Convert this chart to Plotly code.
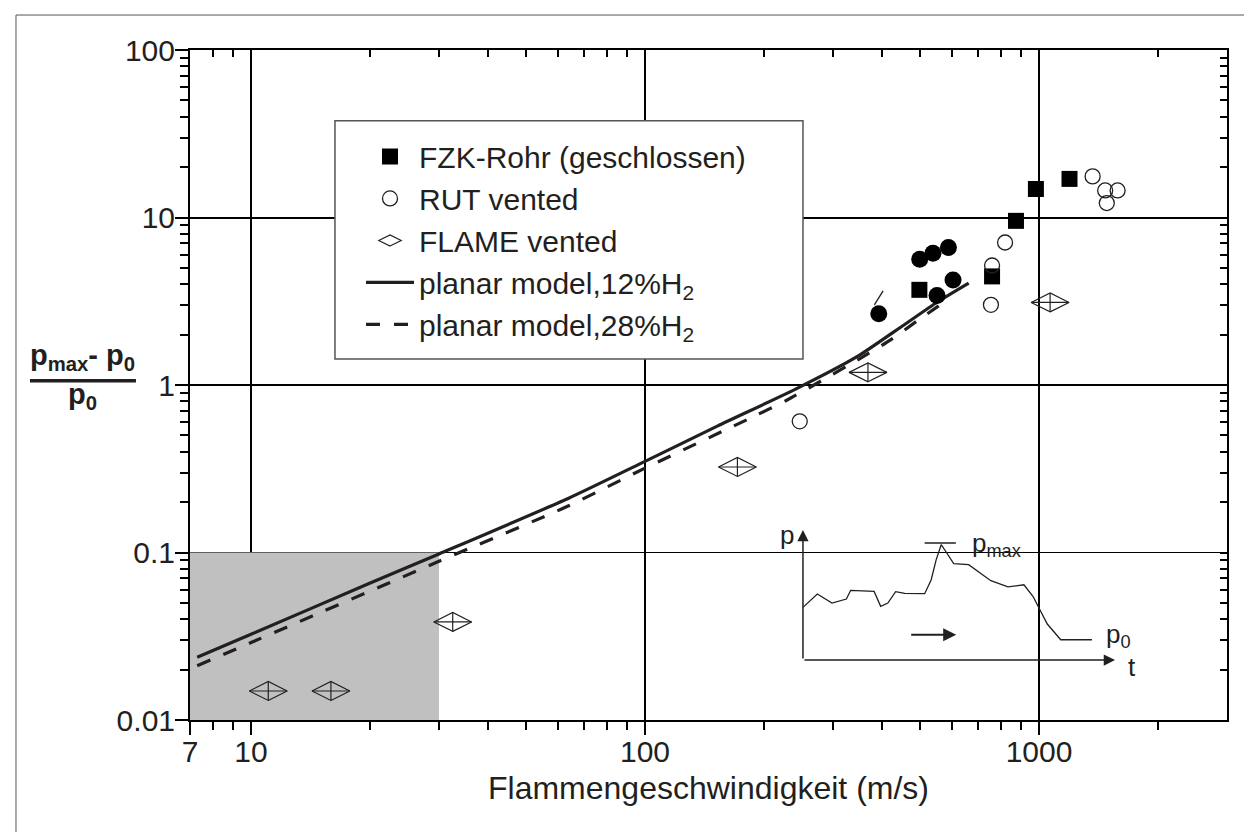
import plotly.graph_objects as go

# Data
# axes ticks
x_ticks = [7, 10, 100, 1000]
x_ticktext = ["7", "10", "100", "1000"]
x_minor = [8, 9, 20, 30, 40, 50, 60, 70, 80, 90,
           200, 300, 400, 500, 600, 700, 800, 900, 2000]
y_ticks = [0.01, 0.1, 1, 10, 100]
y_ticktext = ["0.01", "0.1", "1", "10", "100"]
y_minor = [0.02, 0.03, 0.04, 0.05, 0.06, 0.07, 0.08, 0.09,
           0.2, 0.3, 0.4, 0.5, 0.6, 0.7, 0.8, 0.9,
           2, 3, 4, 5, 6, 7, 8, 9,
           20, 30, 40, 50, 60, 70, 80, 90]

# shaded region (v < 30 m/s, dp/p0 < 0.1)
grey_v = [7, 30, 30, 7, 7]
grey_p = [0.01, 0.01, 0.1, 0.1, 0.01]

# planar model curves
model12_v = [7.3, 10, 20, 30, 64, 100, 153, 244, 346, 450, 551, 663]
model12_p = [0.0237, 0.0325, 0.0655, 0.098, 0.211, 0.35, 0.57, 0.958, 1.48, 2.25, 3.12, 4.06]
model28_v = [7.3, 10, 30, 64, 100, 189, 230, 346, 420, 489, 585]
model28_p = [0.0211, 0.029, 0.0886, 0.19, 0.319, 0.65, 0.816, 1.41, 1.86, 2.40, 3.22]

# FZK-Rohr (closed), squares
fzk_v = [982, 1195, 874, 760, 497]
fzk_p = [14.8, 17.0, 9.55, 4.45, 3.70]
# filled circles (no legend entry)
fzkc_v = [392, 498, 538, 589, 605, 551]
fzkc_p = [2.66, 5.64, 6.12, 6.62, 4.24, 3.42]
# small stroke next to the circle at 392 m/s
stroke_v = [382, 402]
stroke_p = [3.01, 3.65]

# RUT vented
rut_v = [247, 755, 760, 820, 1368, 1472, 1583, 1486]
rut_p = [0.607, 3.01, 5.17, 7.09, 17.6, 14.5, 14.5, 12.2]

# FLAME vented
flame_v = [11.06, 15.95, 32.5, 171.6, 368, 1067]
flame_p = [0.0149, 0.0149, 0.0385, 0.324, 1.19, 3.11]

# inset: schematic pressure history (arbitrary units)
sketch_t = [0, 4.6, 9.3, 13.9, 15.3, 22.8, 24.9, 27.2, 29.7, 32.6, 39.0, 41.1, 42.7,
            44.3, 45.4, 48.3, 53.1, 56.1, 60.2, 65.7, 70.8, 73.7, 76.2, 78.3, 82.6, 92.6]
sketch_p = [40.5, 50.8, 43.8, 46.9, 53.6, 52.8, 41.3, 43.8, 52.6, 51.3, 51.0, 61.8, 77.2,
            88.7, 84.8, 74.1, 73.3, 68.2, 61.0, 56.2, 57.9, 49.0, 36.9, 27.7, 15.6, 15.6]
pmax_t = [39, 49]
pmax_p = [90, 90]

ink = "#231f20"
font_family = "Liberation Sans, Arial, sans-serif"

fig = go.Figure()

fig.add_trace(go.Scatter(x=grey_v, y=grey_p, mode="lines", fill="toself",
                         fillcolor="#c0c0c0", line=dict(width=0),
                         showlegend=False, hoverinfo="skip"))

fig.add_trace(go.Scatter(x=model12_v, y=model12_p, mode="lines",
                         name="planar model,12%H<sub>2</sub>", legendrank=4,
                         line=dict(color=ink, width=3.2, shape="spline", smoothing=0.6)))
fig.add_trace(go.Scatter(x=model28_v, y=model28_p, mode="lines",
                         name="planar model,28%H<sub>2</sub>", legendrank=5,
                         line=dict(color=ink, width=3.2, dash="14px,14px",
                                   shape="spline", smoothing=0.6)))

fig.add_trace(go.Scatter(x=stroke_v, y=stroke_p, mode="lines", showlegend=False,
                         line=dict(color=ink, width=1.3), hoverinfo="skip"))

fig.add_trace(go.Scatter(x=fzk_v, y=fzk_p, mode="markers",
                         name="FZK-Rohr (geschlossen)", legendrank=1,
                         marker=dict(symbol="square", size=16, color="black")))
fig.add_trace(go.Scatter(x=fzkc_v, y=fzkc_p, mode="markers", showlegend=False,
                         marker=dict(symbol="circle", size=17, color="black")))
fig.add_trace(go.Scatter(x=rut_v, y=rut_p, mode="markers",
                         name="RUT vented", legendrank=2,
                         marker=dict(symbol="circle-open", size=15, color=ink,
                                     line=dict(width=1.3, color=ink))))
fig.add_trace(go.Scatter(x=flame_v, y=flame_p, mode="markers",
                         name="FLAME vented", legendrank=3,
                         marker=dict(symbol="diamond-wide-open", size=27, color=ink,
                                     line=dict(width=1.2, color=ink))))
fig.add_trace(go.Scatter(x=flame_v, y=flame_p, mode="markers", showlegend=False,
                         marker=dict(symbol="line-ew-open", size=27, color=ink,
                                     line=dict(width=1.2, color=ink))))
fig.add_trace(go.Scatter(x=flame_v, y=flame_p, mode="markers", showlegend=False,
                         marker=dict(symbol="line-ns-open", size=13.6, color=ink,
                                     line=dict(width=1.2, color=ink))))

# dummy on the overlay axes so that they get drawn
fig.add_trace(go.Scatter(x=[10], y=[1], xaxis="x2", yaxis="y2", mode="markers",
                         marker=dict(opacity=0), showlegend=False, hoverinfo="skip"))

# inset sketch
fig.add_trace(go.Scatter(x=sketch_t, y=sketch_p, xaxis="x3", yaxis="y3", mode="lines",
                         line=dict(color=ink, width=1.3), showlegend=False,
                         cliponaxis=False, hoverinfo="skip"))
fig.add_trace(go.Scatter(x=pmax_t, y=pmax_p, xaxis="x3", yaxis="y3", mode="lines",
                         line=dict(color=ink, width=1.5), showlegend=False,
                         cliponaxis=False, hoverinfo="skip"))

xr = [0.845098, 3.4771213]  # log10(7), log10(3000)
yr = [-2, 2]

tickfont = dict(family=font_family, size=30, color=ink)

fig.update_layout(
    width=1252, height=832,
    margin=dict(l=182, r=33, t=42, b=120),
    paper_bgcolor="white",
    plot_bgcolor="rgba(0,0,0,0)",
    font=dict(family=font_family, color=ink),
    showlegend=True,
    legend=dict(x=0.1649, y=0.8799, xanchor="left", yanchor="top",
                bgcolor="rgba(0,0,0,0)", borderwidth=0,
                font=dict(size=30, color=ink), itemwidth=48,
                traceorder="normal"),
    xaxis=dict(type="log", range=xr, tickmode="array", tickvals=x_ticks,
               ticktext=x_ticktext, ticks="outside", ticklen=13, tickwidth=2,
               tickcolor="black", tickfont=tickfont, ticklabelstandoff=-9,
               minor=dict(tickmode="array", tickvals=x_minor, ticks="outside",
                          ticklen=8, tickwidth=2, tickcolor="black", showgrid=False),
               showline=True, linewidth=2, linecolor="black", mirror=True,
               showgrid=True, gridcolor="black", gridwidth=2, zeroline=False,
               title=dict(text="Flammengeschwindigkeit (m/s)", standoff=10,
                          font=dict(size=32, color=ink))),
    yaxis=dict(type="log", range=yr, tickmode="array", tickvals=y_ticks,
               ticktext=y_ticktext, ticks="outside", ticklen=13, tickwidth=2,
               tickcolor="black", tickfont=tickfont, ticklabelstandoff=-6,
               minor=dict(tickmode="array", tickvals=y_minor, ticks="outside",
                          ticklen=8, tickwidth=2, tickcolor="black", showgrid=False),
               showline=True, linewidth=2, linecolor="black", mirror=True,
               showgrid=True, gridcolor="black", gridwidth=1, zeroline=False),
    xaxis2=dict(type="log", range=xr, overlaying="x", side="top", anchor="y",
                tickmode="array", tickvals=[10, 100, 1000], ticks="inside",
                ticklen=7, tickwidth=2, tickcolor="black", showticklabels=False,
                minor=dict(tickmode="array", tickvals=x_minor, ticks="inside",
                           ticklen=7, tickwidth=2, tickcolor="black", showgrid=False),
                showline=False, showgrid=False, zeroline=False),
    yaxis2=dict(type="log", range=yr, overlaying="y", side="right", anchor="x",
                tickmode="array", tickvals=[1, 10], ticks="inside",
                ticklen=7, tickwidth=2, tickcolor="black", showticklabels=False,
                minor=dict(tickmode="array", tickvals=y_minor + [0.1], ticks="inside",
                           ticklen=7, tickwidth=2, tickcolor="black", showgrid=False),
                showline=False, showgrid=True, gridcolor="black", gridwidth=2,
                zeroline=False),
    xaxis3=dict(domain=[0.5610, 0.9221], range=[-10, 110], anchor="y3", visible=False),
    yaxis3=dict(domain=[0.0701, 0.3030], range=[-10, 110], anchor="x3", visible=False),
)

# y axis label as a fraction
ylab_font = dict(family=font_family, size=29, color=ink)
annotations = [
    dict(xref="paper", yref="paper", x=-0.1032, y=0.5125, xanchor="center",
         yanchor="bottom", showarrow=False, font=ylab_font,
         text="<b>p<sub>max</sub>- p<sub>0</sub></b>"),
    dict(xref="paper", yref="paper", x=-0.1032, y=0.5135, xanchor="center",
         yanchor="top", showarrow=False, font=ylab_font,
         text="<b>p<sub>0</sub></b>"),
]

# inset arrows and labels
arrow_common = dict(xref="x3", yref="y3", axref="x3", ayref="y3", text="",
                    showarrow=True, arrowcolor=ink, standoff=0, startstandoff=0)
annotations += [
    dict(x=0, y=100, ax=0, ay=0, arrowhead=2, arrowwidth=1.5, arrowsize=1.5, **arrow_common),
    dict(x=100, y=0, ax=0, ay=0, arrowhead=2, arrowwidth=1.5, arrowsize=1.5, **arrow_common),
    dict(x=49.1, y=19.5, ax=34.2, ay=19.5, arrowhead=2, arrowwidth=2, arrowsize=1.3, **arrow_common),
]
inset_font = dict(family=font_family, size=26, color=ink)
annotations += [
    dict(xref="x3", yref="y3", x=-5.1, y=96, text="p", showarrow=False,
         font=inset_font, xanchor="center", yanchor="middle"),
    dict(xref="x3", yref="y3", x=105.5, y=-5, text="t", showarrow=False,
         font=inset_font, xanchor="center", yanchor="middle"),
    dict(xref="x3", yref="y3", x=53.4, y=89, text="p<sub>max</sub>", showarrow=False,
         font=inset_font, xanchor="left", yanchor="middle"),
    dict(xref="x3", yref="y3", x=96.5, y=19, text="p<sub>0</sub>", showarrow=False,
         font=inset_font, xanchor="left", yanchor="middle"),
]
fig.update_layout(annotations=annotations)

# legend frame (drawn as a box over the grid), fraction bar and outer frame
fig.add_shape(type="rect", xref="paper", yref="paper", x0=0.1398, x1=0.5911,
              y0=0.5388, y1=0.8945, layer="above", fillcolor="white",
              line=dict(color="#555", width=1.5))
fig.add_shape(type="line", xref="paper", yref="paper", x0=-0.1543, x1=-0.0521,
              y0=0.5064, y1=0.5064, line=dict(color=ink, width=3.5))
fig.add_shape(type="rect", xref="paper", yref="paper", x0=-0.1678, x1=1.0309,
              y0=-0.1776, y1=1.0522, line=dict(color="#555", width=1))

fig.write_html("out.html")
